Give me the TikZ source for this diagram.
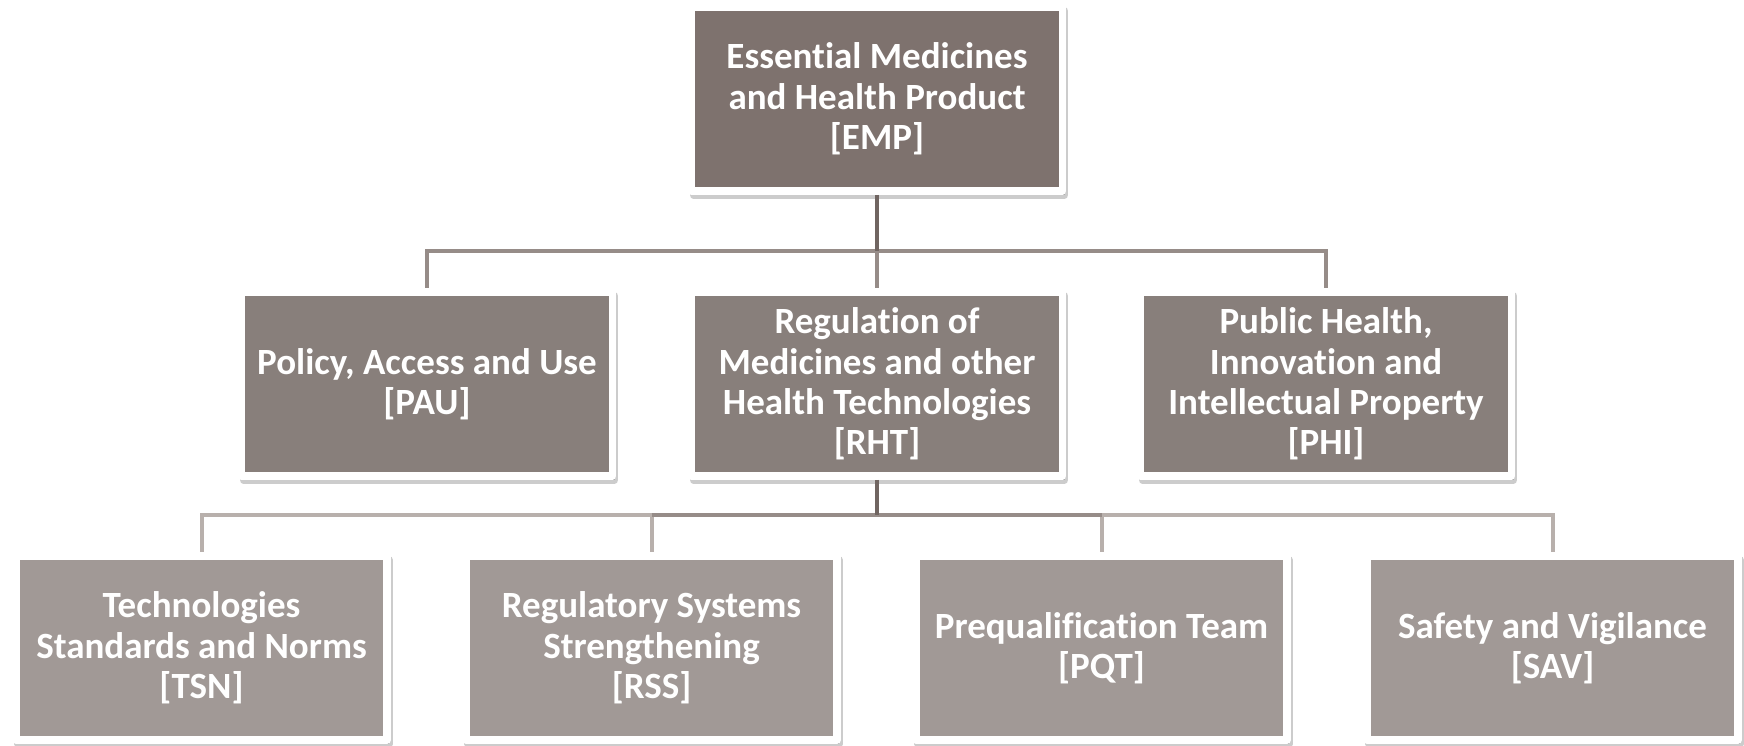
\documentclass[tikz,border=0pt]{standalone}
\usepackage{fontspec}
\setmainfont{Carlito}[Ligatures=NoCommon]
\usepackage{tikz}
\usetikzlibrary{positioning}

\definecolor{boxtop}{RGB}{126,114,110}
\definecolor{boxmid}{RGB}{136,127,123}
\definecolor{boxlow}{RGB}{161,153,150}
\definecolor{linkdark}{RGB}{112,101,97}
\definecolor{linkmid}{RGB}{150,140,136}
\definecolor{linklight}{RGB}{184,176,172}

\begin{document}
\begin{tikzpicture}[x=0.5pt,y=-0.5pt,
    unit/.style={draw=white, line width=3.75pt, line join=round,
      minimum width=185.5pt, minimum height=92pt, inner sep=0pt,
      align=center, text=white, font=\fontsize{18.5}{20.2}\selectfont\bfseries,
      preaction={draw=black, fill=black, opacity=0.2,
        transform canvas={shift={(1pt,-2pt)}}}},
    link/.style={line width=2pt}]
    \useasboundingbox (0,0) rectangle (1744,745);
    % top
    \node[unit, fill=boxtop] (emp) at (877,99) {Essential Medicines\\and Health Product\\{[EMP]}};
    % departments
    \node[unit, fill=boxmid] (pau) at (427,384) {Policy, Access and Use\\{[PAU]}};
    \node[unit, fill=boxmid] (rht) at (877,384) {Regulation of\\Medicines and other\\Health Technologies\\{[RHT]}};
    \node[unit, fill=boxmid] (phi) at (1326,384) {Public Health,\\Innovation and\\Intellectual Property\\{[PHI]}};
    % teams
    \node[unit, fill=boxlow] (tsn) at (201.5,648) {Technologies\\Standards and Norms\\{[TSN]}};
    \node[unit, fill=boxlow] (rss) at (651.5,648) {Regulatory Systems\\Strengthening\\{[RSS]}};
    \node[unit, fill=boxlow] (pqt) at (1101.5,648) {Prequalification Team\\{[PQT]}};
    \node[unit, fill=boxlow] (sav) at (1552.5,648) {Safety and Vigilance\\{[SAV]}};
    % connectors
    \coordinate (bus1) at (877,251);
    \coordinate (bus2) at (877,515);
    \foreach \c in {pau,rht,phi}
      \draw[link, color=linkmid] (emp |- bus1) -| (\c.north);
    \draw[link, color=linkdark] (emp.south) -- (emp |- bus1);
    \foreach \c in {tsn,rss,pqt,sav}
      \draw[link, color=linklight] (rht |- bus2) -| (\c.north);
    \draw[link, color=linkmid] (rss |- bus2) -- (pqt |- bus2);
    \draw[link, color=linkdark] (rht.south) -- (rht |- bus2);
\end{tikzpicture}
\end{document}
